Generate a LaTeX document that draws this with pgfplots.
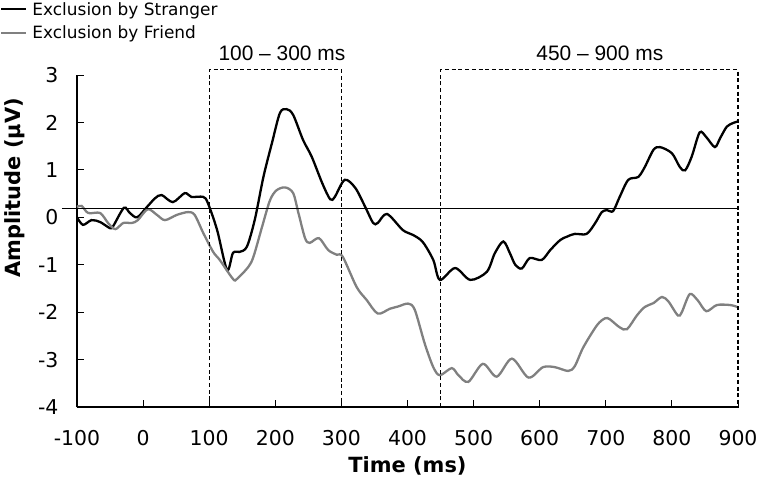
\documentclass[border=0pt]{standalone}
\usepackage{pgfplots}
\pgfplotsset{compat=1.18}
\usepackage{fontspec}
\setmainfont{DejaVu Sans}
\newfontfamily\arialfont{Liberation Sans}

\definecolor{friendgray}{RGB}{128,128,128}

\begin{document}
\begin{tikzpicture}
\begin{axis}[
    scale only axis, width=661bp, height=332bp,
    xmin=-100, xmax=900, ymin=-4, ymax=3,
    axis lines=left, axis line style={-, line width=1.2bp},
    xtick={-100,0,...,900}, ytick={-4,-3,...,3},
    tick align=inside, major tick length=7bp,
    tick style={line width=1bp, black},
    /pgf/number format/assume math mode=true,
    ticklabel style={font=\fontsize{20.5}{24}\selectfont},
    xticklabel style={yshift=-20bp},
    yticklabel={\pgfmathprintnumber{\tick}\hspace*{15bp}},
    xlabel={\bfseries Time (ms)},
    ylabel={\bfseries Amplitude (μV)},
    label style={font=\fontsize{21}{25}\selectfont},
    xlabel style={at={(axis description cs:0.5,-0.178)}, anchor=center},
    ylabel style={at={(axis description cs:-0.0938,0.66)}, anchor=center},
    clip=false,
    legend cell align=left,
    legend style={at={(axis description cs:-0.1165,1.226)}, anchor=north west,
        draw=none, fill=none, inner sep=0pt, row sep=5bp, column sep=3bp,
        font=\fontsize{17}{20}\selectfont},
    legend image code/.code={\draw[#1] (0bp,0bp) -- (25bp,0bp);},
]
% Exclusion by Stranger
\addplot[black, line width=2.3bp, smooth, tension=0.5] coordinates {
(-100,0.0) (-91,-0.16) (-78,-0.06) (-65,-0.1) (-50,-0.23) (-45,-0.18) (-29,0.2) (-20,0.09) (-9,0.0)
(6,0.22) (18,0.4) (28,0.47) (45,0.32) (63,0.51) (73,0.43) (91,0.43) (98,0.3) (112,-0.27) (127,-1.11)
(136,-0.75) (146,-0.73) (157,-0.62) (169,-0.05) (182,0.85) (195,1.57) (207,2.2) (217,2.28) (227,2.16)
(242,1.63) (255,1.28) (271,0.72) (283,0.38) (290,0.43) (305,0.79) (321,0.62) (336,0.22) (348,-0.12)
(355,-0.12) (369,0.07) (393,-0.27) (408,-0.37) (423,-0.52) (439,-0.9) (449,-1.32) (472,-1.07)
(495,-1.32) (520,-1.15) (532,-0.76) (545,-0.51) (555,-0.76) (563,-1.0) (573,-1.08) (585,-0.86)
(603,-0.9) (616,-0.69) (631,-0.48) (641,-0.41) (653,-0.35) (671,-0.35) (684,-0.12) (694,0.11)
(702,0.15) (711,0.13) (721,0.43) (734,0.79) (749,0.85) (759,1.06) (772,1.42) (782,1.48) (800,1.35)
(812,1.06) (820,0.99) (830,1.28) (842,1.79) (852,1.69) (865,1.48) (873,1.67) (883,1.91) (893,1.99) (900,2.02)
};
\addlegendentry{Exclusion by Stranger}
% Exclusion by Friend
\addplot[friendgray, line width=2.3bp, smooth, tension=0.5] coordinates {
(-100,0.22) (-93,0.24) (-83,0.09) (-65,0.09) (-53,-0.12) (-42,-0.25) (-30,-0.12) (-17,-0.12) (-8,-0.06)
(7,0.17) (21,0.05) (33,-0.06) (51,0.05) (68,0.11) (78,0.05) (91,-0.33) (106,-0.73) (116,-0.9)
(136,-1.3) (142,-1.3) (159,-1.05) (167,-0.83) (180,-0.2) (192,0.36) (202,0.57) (215,0.63) (227,0.51)
(235,0.09) (245,-0.44) (252,-0.54) (266,-0.44) (280,-0.69) (293,-0.79) (302,-0.83) (323,-1.47)
(338,-1.74) (355,-2.03) (373,-1.93) (386,-1.88) (401,-1.82) (411,-1.95) (426,-2.66) (439,-3.16)
(449,-3.33) (467,-3.18) (477,-3.33) (492,-3.47) (514,-3.09) (535,-3.36) (558,-2.98) (583,-3.38)
(605,-3.16) (623,-3.16) (643,-3.24) (653,-3.14) (666,-2.74) (687,-2.27) (699,-2.13) (706,-2.15)
(721,-2.32) (732,-2.36) (747,-2.07) (759,-1.89) (772,-1.81) (785,-1.68) (795,-1.78) (809,-2.07)
(815,-2.0) (827,-1.62) (839,-1.75) (852,-1.98) (868,-1.85) (888,-1.85) (899,-1.89)
};
\addlegendentry{Exclusion by Friend}
% baseline
\addplot[black, line width=1bp, forget plot] coordinates {(-123,0.18) (900,0.18)};
% analysis windows
\addplot[black, line width=1.3bp, dash pattern=on 4bp off 2.7bp, forget plot]
    coordinates {(100,-4) (100,3.11) (300,3.11) (300,-4)};
\addplot[black, line width=1.3bp, dash pattern=on 4bp off 2.7bp, forget plot]
    coordinates {(450,-4) (450,3.11) (900,3.11) (900,-4)};
\node[font=\arialfont\fontsize{21}{24}\selectfont] at (axis cs:210,3.46) {100 – 300 ms};
\node[font=\arialfont\fontsize{21}{24}\selectfont] at (axis cs:691,3.46) {450 – 900 ms};
\end{axis}
\pgfresetboundingbox
\path[use as bounding box] ([shift={(-77bp,-89bp)}]current axis.south west)
    rectangle ([shift={(683bp,407bp)}]current axis.south west);
\end{tikzpicture}
\end{document}
